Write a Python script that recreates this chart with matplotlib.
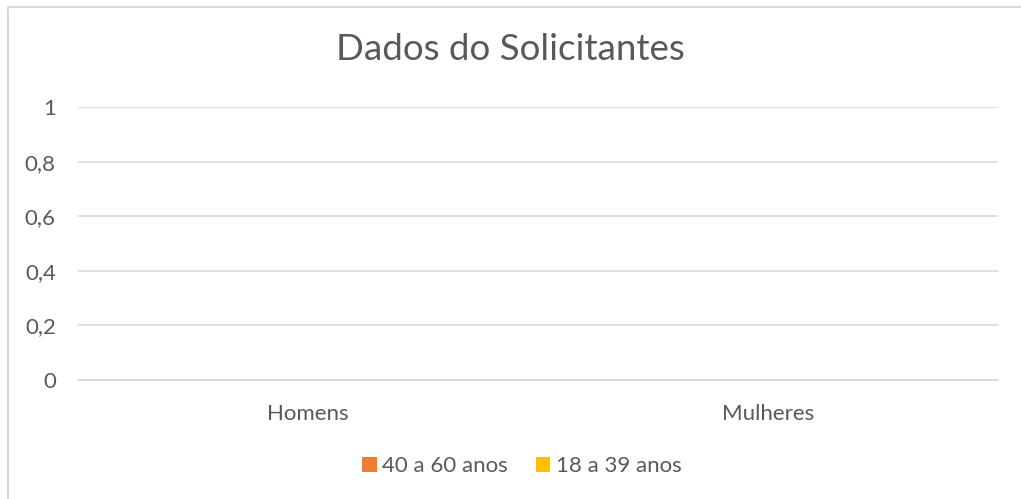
import numpy as np
import matplotlib.pyplot as plt
from matplotlib.patches import Rectangle

# dados do grafico (vazio no original)
categorias = ['Homens', 'Mulheres']
serie_40_60 = [0, 0]
serie_18_39 = [0, 0]
nomes_series = ['40 a 60 anos', '18 a 39 anos']
cores = ['#ED7D31', '#FFC000']
ticks_y = [0, 0.2, 0.4, 0.6, 0.8, 1]
rotulos_y = ['0', '0,2', '0,4', '0,6', '0,8', '1']

plt.rcParams['font.family'] = ['Lato', 'DejaVu Sans']
cinza_texto = '#595959'

fig = plt.figure(figsize=(10.21, 4.99), dpi=100)
W, H = 1021, 499
ax = fig.add_axes([78 / W, (H - 380) / H, (998 - 78) / W, (380 - 107) / H])

x = np.arange(len(categorias))
larg = 0.3
ax.bar(x - larg / 2, serie_40_60, larg, color=cores[0], label=nomes_series[0], linewidth=0)
ax.bar(x + larg / 2, serie_18_39, larg, color=cores[1], label=nomes_series[1], linewidth=0)

ax.set_xlim(-0.5, 1.5)
ax.set_ylim(0, 1)
ax.set_yticks(ticks_y)
ax.set_yticklabels(rotulos_y)
ax.set_xticks(x)
ax.set_xticklabels(categorias)
ax.tick_params(axis='y', length=0, pad=16, labelsize=16, labelcolor=cinza_texto)
ax.tick_params(axis='x', length=0, pad=17, labelsize=16, labelcolor=cinza_texto)
ax.yaxis.grid(True, color='#D9D9D9', linewidth=1.2)
ax.set_axisbelow(True)
for lado in ['top', 'right', 'left']:
    ax.spines[lado].set_visible(False)
ax.spines['bottom'].set_color('#D9D9D9')
ax.spines['bottom'].set_linewidth(1.2)

fig.text(0.5, 1 - 50 / H, 'Dados do Solicitantes', ha='center', va='center',
         fontsize=26.5, color=cinza_texto)

leg = fig.legend(loc='center', bbox_to_anchor=(522 / W, 1 - 466 / H), ncol=2, frameon=False,
                 fontsize=16, handlelength=0.65, handleheight=0.65, handletextpad=0.25,
                 columnspacing=1.25)
for t in leg.get_texts():
    t.set_color(cinza_texto)

# moldura do grafico
fig.patches.append(Rectangle((8 / W, -0.1), 1.2, 1.1 - 7 / H, transform=fig.transFigure,
                             fill=False, edgecolor='#D9D9D9', linewidth=1.5))

fig.savefig('out.png', dpi=100)
